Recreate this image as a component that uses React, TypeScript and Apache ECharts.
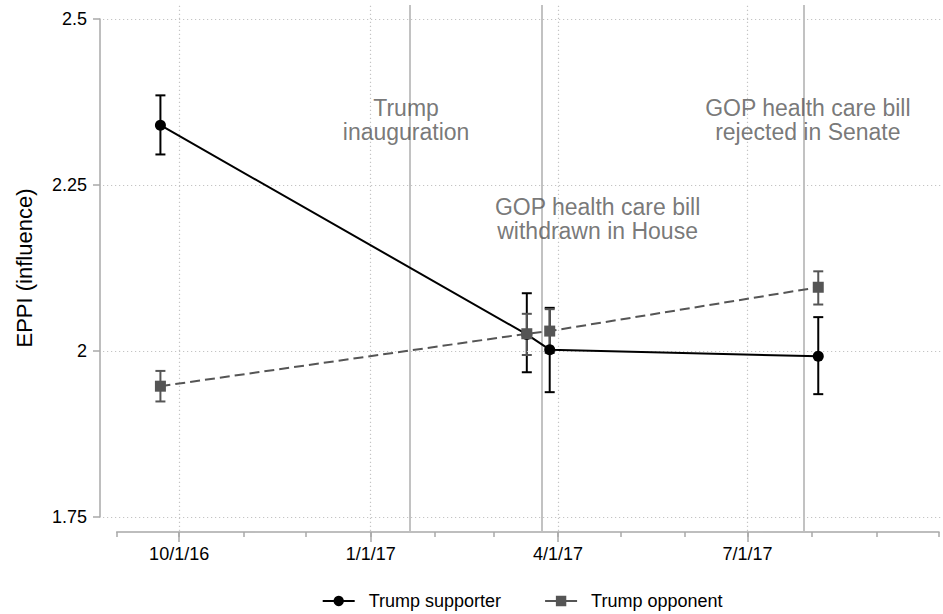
import React, { useEffect, useRef } from "react";
import * as echarts from "echarts";

const FONT = '"Liberation Sans", Arial, Helvetica, sans-serif';
const D = (y: number, m: number, d: number) => Date.UTC(y, m - 1, d);

// ---------- data ----------
const seriesNames = ["Trump supporter", "Trump opponent"];
const waveDates = [D(2016, 9, 22), D(2017, 3, 17), D(2017, 3, 28), D(2017, 8, 4)];
const supporterMean = [2.34, 2.025, 2.002, 1.992];
const supporterLow = [2.296, 1.968, 1.938, 1.935];
const supporterHigh = [2.385, 2.087, 2.065, 2.051];
const opponentMean = [1.947, 2.026, 2.03, 2.096];
const opponentLow = [1.924, 1.994, 1.997, 2.07];
const opponentHigh = [1.97, 2.056, 2.063, 2.12];

const eventDates = [D(2017, 1, 20), D(2017, 3, 24), D(2017, 7, 28)];
const eventLabels = [
  "Trump\ninauguration",
  "GOP health care bill\nwithdrawn in House",
  "GOP health care bill\nrejected in Senate",
];
const eventLabelDates = [D(2017, 1, 18), D(2017, 4, 20), D(2017, 7, 30)];
const eventLabelValues = [2.348, 2.199, 2.348];

const monthTicks = [
  D(2016, 9, 1), D(2016, 10, 1), D(2016, 11, 1), D(2016, 12, 1),
  D(2017, 1, 1), D(2017, 2, 1), D(2017, 3, 1), D(2017, 4, 1),
  D(2017, 5, 1), D(2017, 6, 1), D(2017, 7, 1), D(2017, 8, 1),
  D(2017, 9, 1), D(2017, 10, 1),
];
const labelTicks = [D(2016, 10, 1), D(2017, 1, 1), D(2017, 4, 1), D(2017, 7, 1)];
const yTicks = [1.75, 2, 2.25, 2.5];
const xMin = D(2016, 9, 1);
const xMax = D(2017, 10, 1);
const yMin = 1.75;
const yMax = 2.5;

// ---------- layout ----------
const W = 943;
const H = 614;
const axL = 116.7, axR = 939, axT = 19, axB = 517;
const rgL = 103, rgR = 943, rgT = 5, rgB = 531;
const msPerPx = (xMax - xMin) / (axR - axL);
const valPerPx = (yMax - yMin) / (axB - axT);
const x2Min = xMin - (axL - rgL) * msPerPx;
const x2Max = xMax + (rgR - axR) * msPerPx;
const y2Min = yMin - (rgB - axB) * valPerPx;
const y2Max = yMax + (axT - rgT) * valPerPx;

const AXIS_GRAY = "#a8a8a8";
const OPP = "#555555";

const fmtDate = (v: number) => {
  const d = new Date(v);
  return `${d.getUTCMonth() + 1}/${d.getUTCDate()}/${String(d.getUTCFullYear()).slice(2)}`;
};

const errorBars = (color: string) => (params: any, api: any) => {
  const x = api.value(0);
  const lo = api.coord([x, api.value(1)]);
  const hi = api.coord([x, api.value(2)]);
  const hw = 5;
  const style = { stroke: color, lineWidth: 2, fill: "none" };
  return {
    type: "group",
    children: [
      { type: "line", shape: { x1: lo[0], y1: lo[1], x2: hi[0], y2: hi[1] }, style },
      { type: "line", shape: { x1: lo[0] - hw, y1: lo[1], x2: lo[0] + hw, y2: lo[1] }, style },
      { type: "line", shape: { x1: hi[0] - hw, y1: hi[1], x2: hi[0] + hw, y2: hi[1] }, style },
    ],
  };
};

export default function App() {
  const ref = useRef<HTMLDivElement>(null);
  useEffect(() => {
    if (!ref.current) return;
    const chart = echarts.init(ref.current, undefined, { renderer: "svg" });
    const dotted = { color: "#c4c4c4", width: 1.2, type: [1.2, 2.8] as any };
    const eventStyle = { color: "#c2c2c2", width: 2, type: "solid" as any };
    const option: any = {
      animation: false,
      backgroundColor: "#ffffff",
      textStyle: { fontFamily: FONT },
      grid: [
        { left: axL, top: axT, width: axR - axL, height: axB - axT, containLabel: false },
        { left: rgL, top: rgT, width: rgR - rgL, height: rgB - rgT, containLabel: false },
      ],
      xAxis: [
        {
          type: "value", gridIndex: 0, position: "bottom", offset: 15,
          min: xMin, max: xMax,
          axisLine: { show: true, lineStyle: { color: AXIS_GRAY, width: 1.5 } },
          axisTick: { show: true, customValues: monthTicks, length: 5, lineStyle: { color: AXIS_GRAY, width: 1.5 } },
          axisLabel: { show: false },
          splitLine: { show: false },
        },
        {
          type: "value", gridIndex: 0, position: "bottom", offset: 15,
          min: xMin, max: xMax,
          axisLine: { show: false },
          axisTick: { show: true, customValues: labelTicks, length: 10, lineStyle: { color: AXIS_GRAY, width: 1.5 } },
          axisLabel: {
            show: true, customValues: labelTicks, formatter: fmtDate,
            fontSize: 18, color: "#000", fontFamily: FONT, margin: 13,
          },
          splitLine: { show: false },
        },
        { type: "value", gridIndex: 1, min: x2Min, max: x2Max, show: false },
      ],
      yAxis: [
        {
          type: "value", gridIndex: 0, position: "left", offset: axL - 100,
          min: yMin, max: yMax, interval: 0.25,
          axisLine: { show: true, lineStyle: { color: AXIS_GRAY, width: 1.5 } },
          axisTick: { show: true, length: 7, lineStyle: { color: AXIS_GRAY, width: 1.5 } },
          axisLabel: { fontSize: 18, color: "#000", fontFamily: FONT, margin: 13 },
          splitLine: { show: false },
          name: "EPPI (influence)", nameLocation: "middle", nameGap: 65,
          nameTextStyle: { fontSize: 22, color: "#000", fontFamily: FONT },
        },
        { type: "value", gridIndex: 1, min: y2Min, max: y2Max, show: false },
      ],
      legend: {
        data: [
          { name: seriesNames[0], lineStyle: { type: "solid" } },
          { name: seriesNames[1], lineStyle: { type: "solid" } },
        ],
        left: 321.7, top: 592, padding: 0,
        itemWidth: 32, itemHeight: 13, itemGap: 43,
        textStyle: { fontSize: 18, color: "#000", fontFamily: FONT, padding: [0, 0, 0, 9] },
        selectedMode: false,
      },
      series: [
        {
          type: "line", name: "bg", xAxisIndex: 2, yAxisIndex: 1, data: [], silent: true, z: 1,
          markLine: {
            silent: true, symbol: ["none", "none"], label: { show: false }, animation: false,
            data: [
              ...yTicks.map((v) => ({ yAxis: v, lineStyle: dotted })),
              ...labelTicks.map((v) => ({ xAxis: v, lineStyle: dotted })),
              ...eventDates.map((v) => ({ xAxis: v, lineStyle: eventStyle })),
            ],
          },
        },
        {
          type: "custom", name: "supporterCI", xAxisIndex: 0, yAxisIndex: 0, z: 3, silent: true,
          renderItem: errorBars("#000000"),
          encode: { x: 0, y: [1, 2] },
          data: waveDates.map((d, i) => [d, supporterLow[i], supporterHigh[i]]),
        },
        {
          type: "custom", name: "opponentCI", xAxisIndex: 0, yAxisIndex: 0, z: 4, silent: true,
          renderItem: errorBars(OPP),
          encode: { x: 0, y: [1, 2] },
          data: waveDates.map((d, i) => [d, opponentLow[i], opponentHigh[i]]),
        },
        {
          type: "line", name: seriesNames[0], xAxisIndex: 0, yAxisIndex: 0, z: 5,
          data: waveDates.map((d, i) => [d, supporterMean[i]]),
          symbol: "circle", symbolSize: 11, showAllSymbol: true,
          itemStyle: { color: "#000000" },
          lineStyle: { color: "#000000", width: 2 },
        },
        {
          type: "line", name: seriesNames[1], xAxisIndex: 0, yAxisIndex: 0, z: 6,
          data: waveDates.map((d, i) => [d, opponentMean[i]]),
          symbol: "rect", symbolSize: 11, showAllSymbol: true,
          itemStyle: { color: OPP },
          lineStyle: { color: OPP, width: 2, type: [10, 5] },
        },
        {
          type: "scatter", name: "notes", xAxisIndex: 0, yAxisIndex: 0, z: 7, silent: true,
          symbolSize: 1, itemStyle: { color: "rgba(0,0,0,0)" },
          data: eventLabelDates.map((d, i) => ({ value: [d, eventLabelValues[i]], name: eventLabels[i] })),
          label: {
            show: true, position: "inside", formatter: "{b}",
            fontSize: 23, lineHeight: 24, color: "#555555", fontFamily: FONT, align: "center",
          },
        },
      ],
    };
    chart.setOption(option);
    return () => chart.dispose();
  }, []);
  return (
    <div
      ref={ref}
      style={{ position: "absolute", left: 0, top: 0, width: W, height: H, background: "#fff" }}
    />
  );
}
